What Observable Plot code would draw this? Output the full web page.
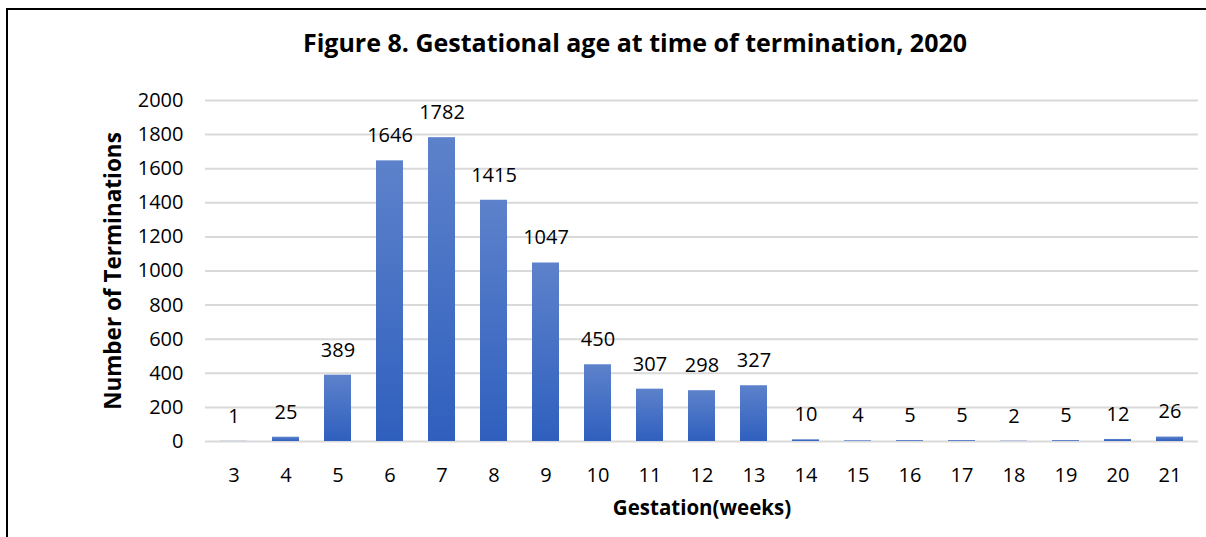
<!DOCTYPE html>
<html>
<head>
<meta charset="utf-8">
<script src="https://cdn.jsdelivr.net/npm/d3@7"></script>
<script src="https://cdn.jsdelivr.net/npm/@observablehq/plot@0.6"></script>
<style>
  html, body { margin: 0; padding: 0; background: #fff; }
  #wrap { position: relative; width: 1206px; height: 537px; overflow: hidden; font-family: "Open Sans", sans-serif; }
  #frame { position: absolute; left: 6px; top: 8px; width: 1300px; height: 700px; border: 2px solid #000; box-sizing: border-box; pointer-events: none; }
  #title { position: absolute; left: 64px; top: 0; width: 1142px; height: 70px; text-align: center; font-weight: bold; font-size: 25px; line-height: 26px; padding-top: 29px; box-sizing: border-box; color: #000; white-space: nowrap; }
  #chart { position: absolute; left: 0; top: 0; }
</style>
</head>
<body>
<div id="wrap">
  <div id="chart"></div>
  <div id="title">Figure 8. Gestational age at time of termination, 2020</div>
  <div id="frame"></div>
</div>
<script>
const weeks = [3, 4, 5, 6, 7, 8, 9, 10, 11, 12, 13, 14, 15, 16, 17, 18, 19, 20, 21];
const terminations = [1, 25, 389, 1646, 1782, 1415, 1047, 450, 307, 298, 327, 10, 4, 5, 5, 2, 5, 12, 26];
const yTicks = [0, 200, 400, 600, 800, 1000, 1200, 1400, 1600, 1800, 2000];
const xTitle = "Gestation(weeks)";
const yTitle = "Number of Terminations";

const data = weeks.map((w, i) => ({week: String(w), value: terminations[i]}));

const plot = Plot.plot({
  width: 1206,
  height: 537,
  marginLeft: 205,
  marginRight: 8,
  marginTop: 100,
  marginBottom: 96,
  style: {fontFamily: "'Open Sans', sans-serif", fontSize: "20px", color: "#000", background: "transparent"},
  x: {domain: weeks.map(String), paddingInner: 0.48, paddingOuter: 0.24, label: null},
  y: {domain: [0, 2000], label: null},
  marks: [
    Plot.gridY(yTicks, {stroke: "#d9d9d9", strokeOpacity: 1, strokeWidth: 2}),
    Plot.axisY(yTicks, {tickSize: 0, tickPadding: 22, fontSize: 20, fill: "#000", tickFormat: "d"}),
    Plot.axisX({tickSize: 0, tickPadding: 26, fontSize: 20, fill: "#000"}),
    Plot.barY(data, {x: "week", y: "value", fill: "url(#barGrad)"}),
    Plot.text(data, {x: "week", y: "value", text: d => String(d.value), dy: -25, fontSize: 20, fill: "#000"}),
    Plot.text([yTitle], {frameAnchor: "left", textAnchor: "middle", text: d => d, rotate: -90, dx: -92, fontWeight: "bold", fontSize: 22.5, fill: "#000"}),
    Plot.text([xTitle], {frameAnchor: "bottom", text: d => d, dy: 73, fontWeight: "bold", fontSize: 20.5, fill: "#000"})
  ]
});

const ns = "http://www.w3.org/2000/svg";
const defs = document.createElementNS(ns, "defs");
const grad = document.createElementNS(ns, "linearGradient");
grad.setAttribute("id", "barGrad");
grad.setAttribute("x1", "0"); grad.setAttribute("y1", "0");
grad.setAttribute("x2", "0"); grad.setAttribute("y2", "1");
[["0%", "#5d82cb"], ["100%", "#2f5fbe"]].forEach(([o, c]) => {
  const s = document.createElementNS(ns, "stop");
  s.setAttribute("offset", o); s.setAttribute("stop-color", c);
  grad.appendChild(s);
});
defs.appendChild(grad);
plot.insertBefore(defs, plot.firstChild);
document.getElementById("chart").appendChild(plot);
</script>
</body>
</html>
